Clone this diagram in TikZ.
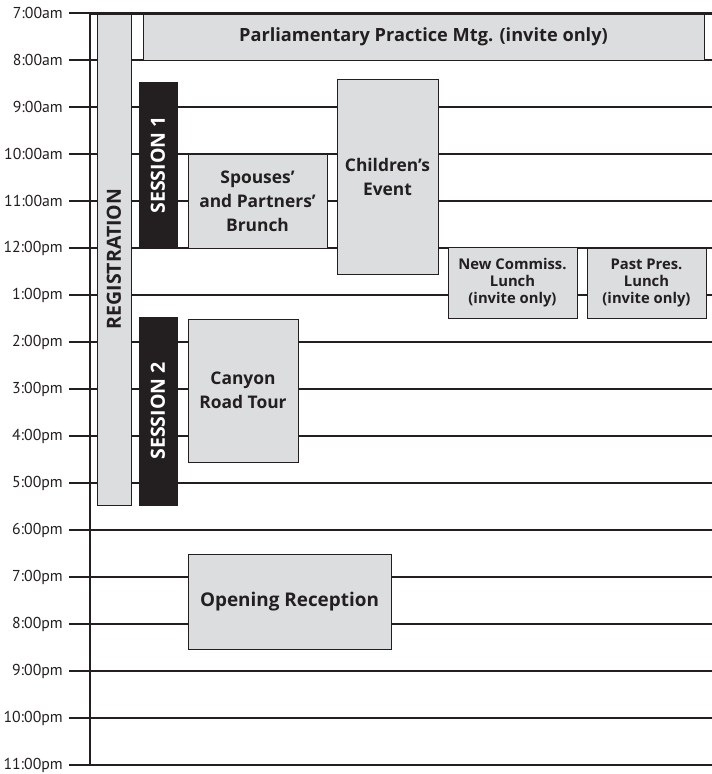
\documentclass[tikz,border=0pt]{standalone}
\usepackage{fontspec}
\setmainfont{PT Sans}
\newfontfamily\boxfont{Open Sans}
\definecolor{ink}{HTML}{231F20}
\definecolor{boxgray}{HTML}{DCDDDF}
\tikzset{
	evt/.style = {draw = ink, fill = boxgray, line width = 0.9pt, inner sep = 0pt, align = center, text = ink, font = \boxfont\bfseries\fontsize{17.4}{24}\selectfont},
	small evt/.style = {evt, font = \boxfont\bfseries\fontsize{14.8}{17}\selectfont},
	sess/.style = {draw = ink, fill = ink, inner sep = 0pt},
	sesstext/.style = {rotate = 90, text = white, font = \boxfont\bfseries\fontsize{19.5}{20}\selectfont},
	hour/.style = {draw = ink, line width = 2pt},
	tlabel/.style = {anchor = east, inner sep = 0pt, text = ink, font = \fontsize{15.8}{18}\selectfont}
}
\begin{document}
\begin{tikzpicture}[x = 1pt, y = -1pt]
		\useasboundingbox (0, 0) rectangle (712, 774);
		%%%%%%%%%%%%%
		\foreach \t [count = \i from 0] in {7:00am, 8:00am, 9:00am, 10:00am, 11:00am, 12:00pm, 1:00pm, 2:00pm, 3:00pm, 4:00pm, 5:00pm, 6:00pm, 7:00pm, 8:00pm, 9:00pm, 10:00pm, 11:00pm} {
			\node[tlabel] (t\i) at (63, 13 + 47*\i) {\t};
			\draw[hour] ([xshift = 6]t\i.east) -- ++(643, 0);
		}
		\coordinate (axtop) at (90, 12);
		\coordinate (axbot) at (90, 766);
		\coordinate (rend) at (712, 13);
		\draw[draw = ink, line width = 2.5pt] (axtop) -- (axbot);
		%%%%%%%%%%%%%
		\node[evt, minimum width = 34, minimum height = 492] (reg) at (114, 259) {};
		\node[sesstext, text = ink] (regtext) at (reg.center) {REGISTRATION};
		\node[evt, minimum width = 561, minimum height = 46, font = \boxfont\bfseries\fontsize{18.2}{20}\selectfont] (parl) at (423.5, 37) {Parliamentary Practice Mtg. (invite only)};
		\node[sess, minimum width = 38, minimum height = 166] (s1) at (158, 165) {};
		\node[sesstext] (s1text) at (s1.center) {SESSION 1};
		\node[sess, minimum width = 38, minimum height = 188] (s2) at (158, 411) {};
		\node[sesstext] (s2text) at (s2.center) {SESSION 2};
		\node[evt, minimum width = 139, minimum height = 94] (spouse) at (257.5, 201) {Spouses’\\and Partners’\\Brunch};
		\node[evt, minimum width = 101, minimum height = 195] (kids) at (387.5, 176.5) {Children’s\\Event};
		\node[small evt, minimum width = 129, minimum height = 71] (newcom) at (512.5, 282.5) {New Commiss.\\Lunch\\(invite only)};
		\node[small evt, minimum width = 119, minimum height = 70] (pastpres) at (646.5, 283) {Past Pres.\\Lunch\\(invite only)};
		\node[evt, minimum width = 110, minimum height = 143] (canyon) at (243, 390.5) {Canyon\\Road Tour};
		\node[evt, minimum width = 203, minimum height = 95, font = \boxfont\bfseries\fontsize{18.9}{24}\selectfont] (recep) at (289.5, 601.5) {Opening Reception};
		%%%%%%%%%%%%%
		\draw[draw = ink, line width = 3pt] (axtop |- rend) -- (rend);
		%%%%%%%%%%%%%%
\end{tikzpicture}
\end{document}
